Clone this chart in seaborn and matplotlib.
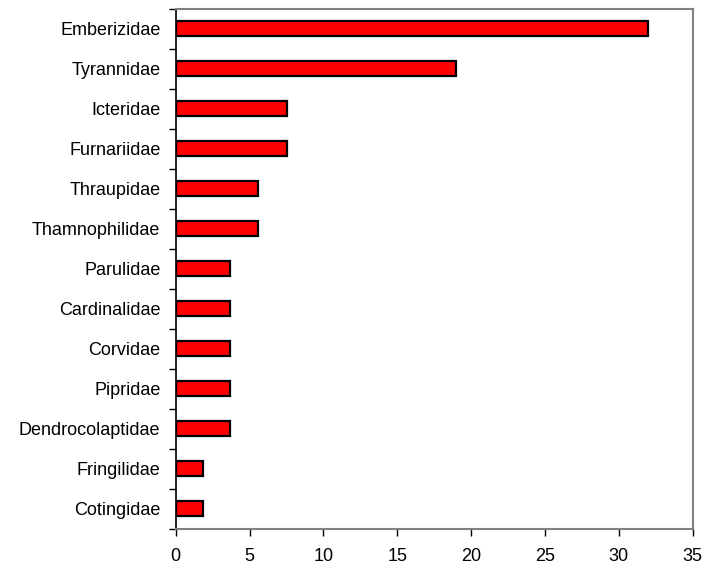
import matplotlib
matplotlib.use("Agg")
import matplotlib.pyplot as plt
import seaborn as sns
import pandas as pd
import numpy as np

families = ["Emberizidae", "Tyrannidae", "Icteridae", "Furnariidae", "Thraupidae",
            "Thamnophilidae", "Parulidae", "Cardinalidae", "Corvidae", "Pipridae",
            "Dendrocolaptidae", "Fringilidae", "Cotingidae"]
values = [32.0, 19.0, 7.5, 7.5, 5.6, 5.6, 3.7, 3.7, 3.7, 3.7, 3.7, 1.85, 1.85]
x_ticks = [0, 5, 10, 15, 20, 25, 30, 35]

sns.set_theme(style="white")
plt.rcParams['font.family'] = ['Liberation Sans', 'DejaVu Sans']

df = pd.DataFrame({"family": families, "value": values})

fig = plt.figure(figsize=(7.04, 5.68), dpi=100)
ax = fig.add_axes([0.2496, 0.069, 0.984 - 0.2496, 0.985 - 0.069])

sns.barplot(data=df, x="value", y="family", ax=ax, color="#ff0000",
            edgecolor="black", linewidth=1.6, width=0.38, saturation=1)

ax.set_xlim(0, 35)
ax.set_ylim(len(families) - 0.5, -0.5)
ax.set_xticks(x_ticks)
ax.set_xticklabels([str(t) for t in x_ticks])
ax.set_xlabel("")
ax.set_ylabel("")

ax.set_yticks(np.arange(len(families)))
ax.set_yticklabels(families)
ax.set_yticks(np.arange(len(families) + 1) - 0.5, minor=True)
ax.tick_params(axis="y", which="major", length=0, pad=11, labelsize=13, labelcolor="black")
ax.tick_params(axis="y", which="minor", length=5, width=1, color="black", left=True, direction="out")
ax.tick_params(axis="x", which="major", length=5, width=1, color="black", bottom=True,
               direction="out", pad=9, labelsize=13, labelcolor="black")

for side in ["top", "right"]:
    ax.spines[side].set_color("#808080")
    ax.spines[side].set_linewidth(1.5)
ax.spines["left"].set_color("black")
ax.spines["left"].set_linewidth(1.2)
ax.spines["bottom"].set_color("#808080")
ax.spines["bottom"].set_linewidth(1.5)
ax.grid(False)

fig.savefig("out.png", dpi=100)
